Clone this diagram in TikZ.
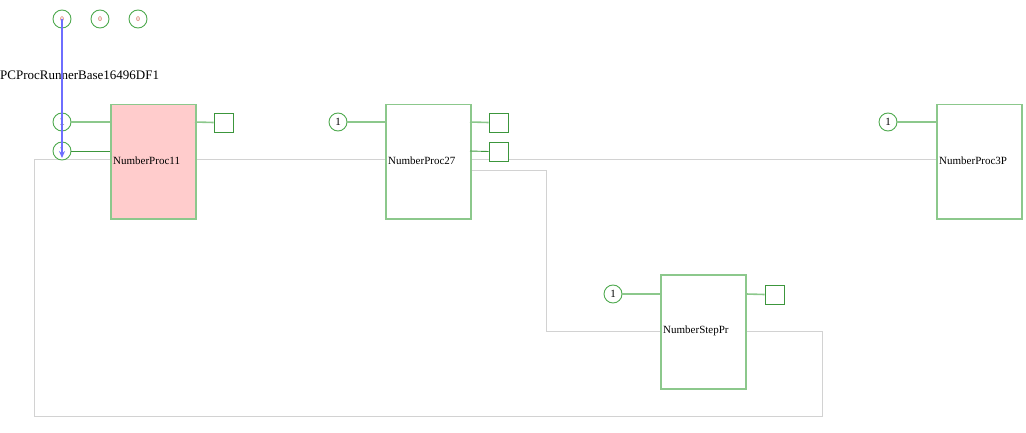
\documentclass[tikz,border=0pt]{standalone}
\usepackage{fontspec}
\setmainfont{Liberation Serif}
\usetikzlibrary{arrows.meta}
\definecolor{gcirc}{RGB}{80,170,80}
\definecolor{gbox}{RGB}{140,200,140}
\definecolor{gdark}{RGB}{60,150,60}
\definecolor{wire}{RGB}{210,210,210}
\definecolor{pinkfill}{RGB}{255,204,204}
\definecolor{arrowblue}{RGB}{110,110,255}
\definecolor{zerored}{RGB}{200,60,40}
\tikzset{
  pin/.style={circle,draw=gcirc,line width=0.9pt,minimum size=18pt,inner sep=0pt,fill=white,font=\fontsize{11}{11}\selectfont},
  zpin/.style={circle,draw=gcirc,line width=0.9pt,minimum size=18pt,inner sep=0pt,fill=white,text=zerored,font=\fontsize{7}{7}\selectfont},
  proc/.style={rectangle,draw=gbox,line width=1.5pt,minimum width=85pt,minimum height=114pt,inner sep=0pt,fill=white},
  outsq/.style={rectangle,draw=gdark,line width=0.9pt,minimum size=19pt,inner sep=0pt,fill=white},
  lbl/.style={anchor=west,inner sep=0pt,font=\fontsize{11}{11}\selectfont},
  inwire/.style={draw=gbox,line width=1.6pt},
  inwire2/.style={draw=gdark,line width=0.9pt},
  gwire/.style={draw=wire,line width=1pt},
}
\begin{document}
\begin{tikzpicture}[x=1pt,y=-1pt]
\useasboundingbox (0,0) rectangle (1026,433);
% coordinates for wire corners
\coordinate (c1) at (822,331);
\coordinate (c2) at (822,416);
\coordinate (c3) at (34,416);
\coordinate (c4) at (34,160);
\coordinate (d1) at (546,171);
\coordinate (d2) at (546,331);
% gray wires (behind boxes)
\coordinate (p3in) at (936,160);
\coordinate (p27out) at (470,171);
\coordinate (spin) at (660,331);
\coordinate (spout) at (746,331);
\draw[gwire] (spout) -- (c1) -- (c2) -- (c3) -- (c4) -- (p3in);
\draw[gwire] (p27out) -- (d1) -- (d2) -- (spin);
% boxes
\node[proc,fill=pinkfill,anchor=north west] (p11) at (110,104) {};
\node[proc,anchor=north west] (p27) at (385,104) {};
\node[proc,anchor=north west] (p3) at (936,104) {};
\node[proc,anchor=north west] (sp) at (660,274) {};
\node[lbl] (l11) at (113,161) {NumberProc11};
\node[lbl] (l27) at (388,161) {NumberProc27};
\node[lbl] (l3) at (939,161) {NumberProc3P};
\node[lbl] (lsp) at (663,331) {NumberStepPr};
% input pins
\node[pin] (i11a) at (62,122) {1};
\node[pin] (i11b) at (62,151) {1};
\node[pin] (i27) at (338,122) {1};
\node[pin] (i3) at (888,122) {1};
\node[pin] (isp) at (613,294) {1};
\draw[inwire] (i11a.east) -- (110,122);
\draw[inwire2] (i11b.east) -- (110,151);
\draw[inwire] (i27.east) -- (385,122);
\draw[inwire] (i3.east) -- (936,122);
\draw[inwire] (isp.east) -- (660,294);
% output squares
\node[outsq] (o11) at (223.5,122.5) {};
\node[outsq] (o27a) at (498.5,122.5) {};
\node[outsq] (o27b) at (498.5,151.5) {};
\node[outsq] (osp) at (774.5,294.5) {};
\draw[inwire] (195,122) -- (o11.west);
\draw[inwire] (470,122) -- (o27a.west);
\draw[inwire2] (470,151) -- (o27b.west);
\draw[inwire] (746,294) -- (osp.west);
% top pins
\node[zpin] (z1) at (62,19) {0};
\node[zpin] (z2) at (100,19) {0};
\node[zpin] (z3) at (138,19) {0};
% title
\node[anchor=west,inner sep=0pt,font=\fontsize{13}{13}\selectfont] (title) at (0,75) {PCProcRunnerBase16496DF1};
% blue arrow
\coordinate (aend) at (62,158);
\draw[arrowblue,line width=1.2pt,-{Stealth[length=7pt,width=6pt]}] (z1.center) -- (aend);
\end{tikzpicture}
\end{document}
